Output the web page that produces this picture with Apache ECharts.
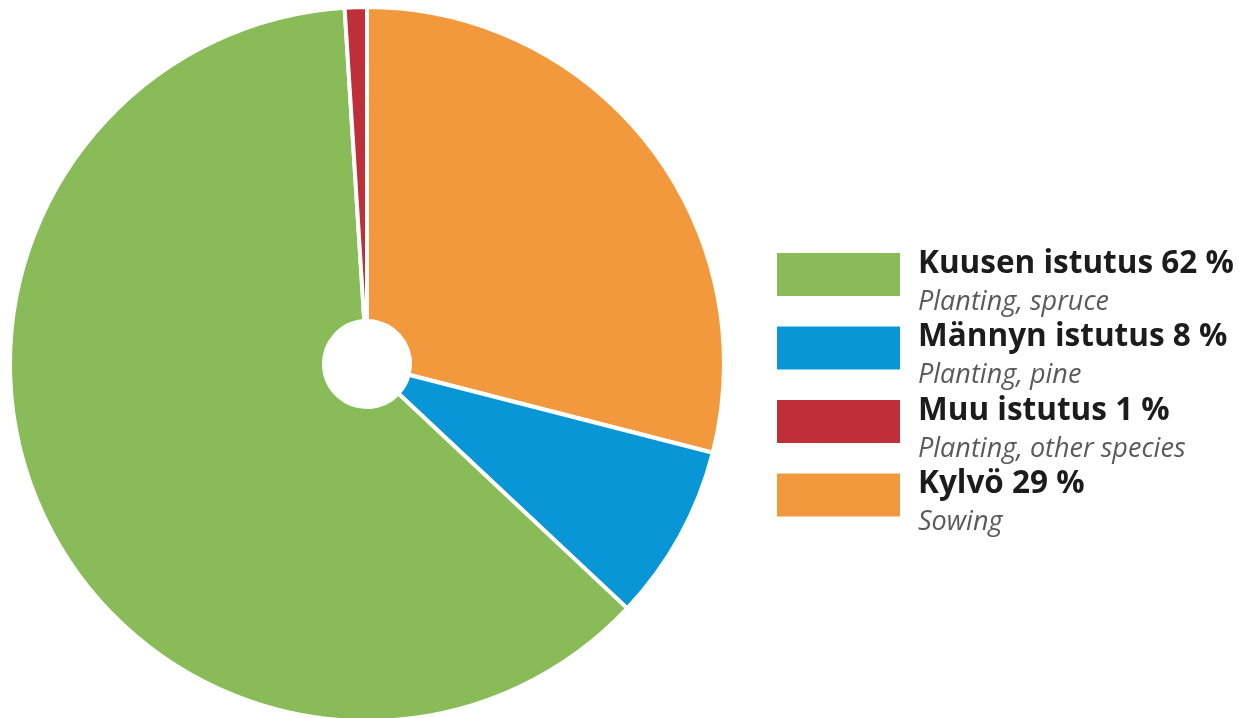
<!DOCTYPE html>
<html lang="fi">
<head>
    <meta charset="UTF-8">
    <title>Istutus ja kylvö</title>
    <script src="https://cdn.jsdelivr.net/npm/echarts@6/dist/echarts.min.js"></script>
    <style>
        html, body { margin: 0; padding: 0; background: #fff; }
        #chart { width: 1239px; height: 718px; }
    </style>
</head>
<body>
<div id="chart"></div>
<script type="text/javascript">
    // data, in pie order (clockwise from 12 o'clock)
    var names = ['Kylvö', 'Männyn istutus', 'Kuusen istutus', 'Muu istutus'];
    var values = [29, 8, 62, 1];
    var subtitles = ['Sowing', 'Planting, pine', 'Planting, spruce', 'Planting, other species'];
    var colors = ['#F3993D', '#0996D6', '#89BC59', '#BE2F3A'];
    // legend order
    var legendOrder = ['Kuusen istutus', 'Männyn istutus', 'Muu istutus', 'Kylvö'];

    var chart = echarts.init(document.getElementById('chart'));

    var data = names.map(function (n, i) {
        return { name: n, value: values[i], itemStyle: { color: colors[i] } };
    });

    var option = {
        animation: false,
        legend: {
            orient: 'vertical',
            left: 775,
            top: 248,
            padding: 0,
            itemWidth: 125,
            itemHeight: 45,
            itemGap: 6,
            icon: 'rect',
            data: legendOrder,
            selectedMode: false,
            formatter: function (name) {
                var i = names.indexOf(name);
                return '{a|' + name + ' ' + values[i] + ' %}\n{b|' + subtitles[i] + '}';
            },
            textStyle: {
                padding: [17, 0, 0, 12],
                rich: {
                    a: {
                        fontFamily: 'Open Sans',
                        fontSize: 31.5,
                        fontWeight: 'bold',
                        color: '#1c1c1c',
                        lineHeight: 38
                    },
                    b: {
                        fontFamily: 'Open Sans',
                        fontSize: 27,
                        fontStyle: 'italic',
                        color: '#5a5a5a',
                        lineHeight: 38
                    }
                }
            }
        },
        series: [
            {
                type: 'pie',
                center: [367, 364],
                radius: [43, 357],
                startAngle: 90,
                clockwise: true,
                avoidLabelOverlap: false,
                label: { show: false },
                labelLine: { show: false },
                emphasis: { disabled: true },
                itemStyle: {
                    borderColor: '#ffffff',
                    borderWidth: 4
                },
                data: data
            }
        ]
    };

    chart.setOption(option);
</script>
</body>
</html>
